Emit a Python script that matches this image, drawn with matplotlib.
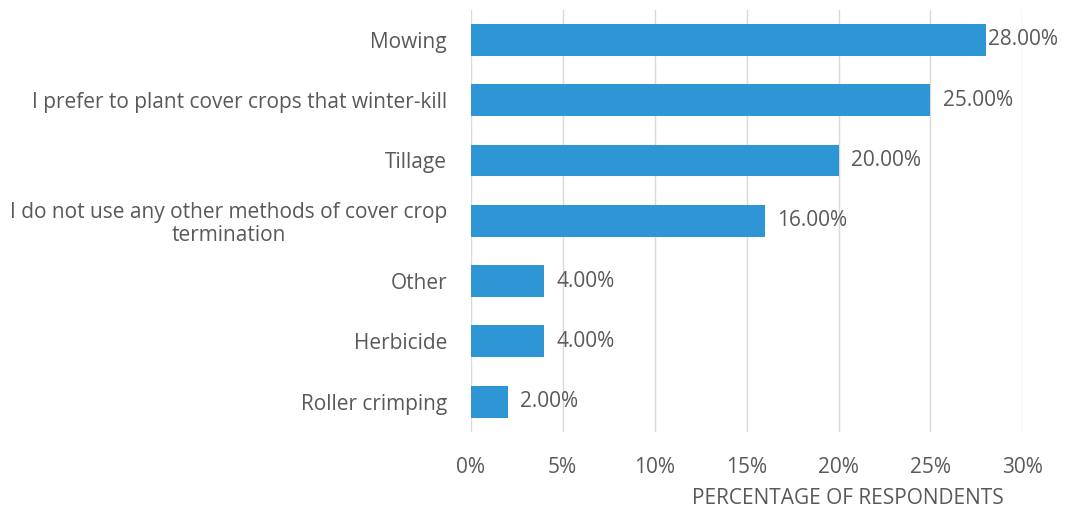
import matplotlib.pyplot as plt

# cover crop termination survey
categories = ['Mowing',
              'I prefer to plant cover crops that winter-kill',
              'Tillage',
              'I do not use any other methods of cover crop\ntermination',
              'Other',
              'Herbicide',
              'Roller crimping']
values = [28.0, 25.0, 20.0, 16.0, 4.0, 4.0, 2.0]
xticks = [0, 5, 10, 15, 20, 25, 30]

bar_color = '#2E96D4'
text_color = '#595959'

plt.rcParams['font.family'] = ['Open Sans', 'DejaVu Sans']

fig = plt.figure(figsize=(10.65, 5.14), dpi=100)
ax = fig.add_axes([0.442, 0.160, 0.518, 0.821])

ypos = list(range(len(categories)))
ax.barh(ypos, values, height=0.53, color=bar_color, zorder=3)
for y, v in zip(ypos, values):
    # label gets squeezed against the edge when the bar is near the right end
    gap = 9 if v < 27 else 2
    ax.annotate('{0:.2f}%'.format(v), xy=(v, y), xytext=(gap, 0), textcoords='offset points',
                va='center', ha='left', fontsize=15, color=text_color, zorder=4,
                annotation_clip=False)

ax.set_xlim(0, 30)
ax.set_ylim(len(categories) - 0.5, -0.5)
ax.set_xticks(xticks)
ax.set_xticklabels(['{0}%'.format(t) for t in xticks])
ax.set_yticks(ypos)
ax.set_yticklabels(categories, multialignment='center', linespacing=1.1)
ax.tick_params(axis='x', length=0, pad=18, labelsize=15, labelcolor=text_color)
ax.tick_params(axis='y', length=0, pad=17, labelsize=15, labelcolor=text_color)
ax.grid(axis='x', color='#d9d9d9', linewidth=1, zorder=0)
for s in ax.spines.values():
    s.set_visible(False)

fig.text(848 / 1065, 1 - 498 / 514, 'PERCENTAGE OF RESPONDENTS', ha='center', va='center',
         fontsize=15, color=text_color)

fig.savefig('out.png', dpi=100)
